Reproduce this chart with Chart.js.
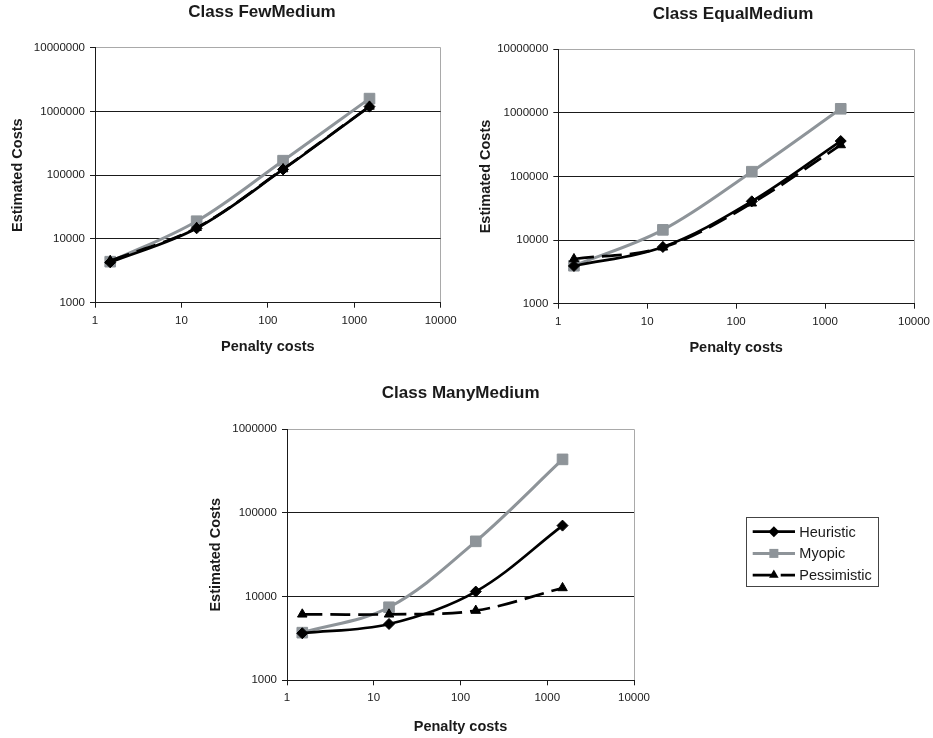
<!DOCTYPE html>
<html><head><meta charset="utf-8">
<script src="https://cdn.jsdelivr.net/npm/chart.js@4/dist/chart.umd.min.js"></script>
<style>
html,body{margin:0;padding:0;background:#fff;}
body{width:933px;height:738px;position:relative;overflow:hidden;}
canvas{position:absolute;}
</style></head><body>
<canvas id="c1" width="466" height="370" style="left:0;top:0"></canvas>
<canvas id="c2" width="475" height="370" style="left:466px;top:0"></canvas>
<canvas id="c3" width="738" height="366" style="left:195px;top:372px"></canvas>
<script>
// ---- data ----
const penalty = [1.5, 15, 150, 1500];
const xTicks = [1, 10, 100, 1000, 10000];
const yTicksTop = [1000, 10000, 100000, 1000000, 10000000];
const yTicksBottom = [1000, 10000, 100000, 1000000];
const seriesNames = ['Heuristic', 'Myopic', 'Pessimistic'];
const chartTitles = ['Class FewMedium', 'Class EqualMedium', 'Class ManyMedium'];
const xAxisTitle = 'Penalty costs';
const yAxisTitle = 'Estimated Costs';

const fewHeuristic = [4300, 14700, 123000, 1190000];
const fewMyopic = [4400, 19000, 169000, 1590000];
const fewPessimistic = [4560, 15000, 125000, 1200000];

const equalHeuristic = [3920, 7800, 40700, 361000];
const equalMyopic = [3950, 14500, 119000, 1160000];
const equalPessimistic = [5050, 7700, 38000, 313000];

const manyHeuristic = [3650, 4710, 11500, 70600];
const manyMyopic = [3710, 7470, 45800, 437000];
const manyPessimistic = [6150, 6150, 6810, 12700];

// ---- styles ----
const FONT = "'Liberation Sans', Arial, sans-serif";
const INK = '#1a1a1a';
const GRAY = '#8e9499';
const seriesStyles = [
  {borderColor: '#000', backgroundColor: '#000', pointBorderColor: '#000', borderWidth: 2.7, pointStyle: 'rectRot', pointRadius: 5.5, pointBorderWidth: 1, order: 0},
  {borderColor: GRAY, backgroundColor: GRAY, pointBorderColor: GRAY, borderWidth: 3, pointStyle: 'rect', pointRadius: 7.5, pointBorderWidth: 1, order: 1},
  {borderColor: '#000', backgroundColor: '#000', pointBorderColor: '#000', borderWidth: 2.7, borderDash: [20, 8], pointStyle: 'triangle', pointRadius: 5.5, pointBorderWidth: 1, order: 0}
];

const fixedTitle = {
  id: 'fixedTitle',
  afterDraw(chart, args, o) {
    if (!o || !o.text) return;
    const ctx = chart.ctx;
    ctx.save();
    ctx.font = o.font;
    ctx.fillStyle = o.color;
    ctx.textAlign = 'center';
    ctx.textBaseline = 'middle';
    ctx.fillText(o.text, o.x, o.y);
    ctx.restore();
  }
};

function drawMarker(ctx, style, x, y, r) {
  ctx.beginPath();
  if (style === 'rectRot') {
    ctx.moveTo(x, y - r); ctx.lineTo(x + r, y); ctx.lineTo(x, y + r); ctx.lineTo(x - r, y);
  } else if (style === 'rect') {
    const s = r * Math.SQRT1_2;
    ctx.rect(x - s, y - s, 2 * s, 2 * s);
  } else {
    const a = 2 * Math.PI / 3;
    ctx.moveTo(x, y - r);
    ctx.lineTo(x + Math.sin(a) * r, y - Math.cos(a) * r);
    ctx.lineTo(x + Math.sin(2 * a) * r, y - Math.cos(2 * a) * r);
  }
  ctx.closePath();
  ctx.fill();
}

const sideLegend = {
  id: 'sideLegend',
  afterDraw(chart, args, o) {
    if (!o || !o.display) return;
    const ctx = chart.ctx;
    ctx.save();
    ctx.strokeStyle = o.boxColor;
    ctx.lineWidth = 1;
    ctx.strokeRect(Math.round(o.x) + 0.5, Math.round(o.y) + 0.5, o.w, o.h);
    chart.data.datasets.forEach((d, i) => {
      const cy = o.firstRow + i * o.rowH;
      ctx.save();
      ctx.strokeStyle = d.borderColor;
      ctx.lineWidth = d.borderWidth;
      ctx.setLineDash(d.borderDash || []);
      ctx.beginPath();
      ctx.moveTo(o.lineX0, cy); ctx.lineTo(o.lineX1, cy);
      ctx.stroke();
      ctx.restore();
      ctx.fillStyle = d.backgroundColor;
      drawMarker(ctx, d.pointStyle, (o.lineX0 + o.lineX1) / 2, cy, d.pointRadius * (d.pointStyle === 'rect' ? 0.85 : 1));
      ctx.fillStyle = INK;
      ctx.font = o.font;
      ctx.textAlign = 'left';
      ctx.textBaseline = 'middle';
      ctx.fillText(d.label, o.textX, cy + 1);
    });
    ctx.restore();
  }
};

function makeChart(id, titleText, yTicks, series, L) {
  const yMax = yTicks[yTicks.length - 1];
  const xMax = xTicks[xTicks.length - 1];
  return new Chart(document.getElementById(id), {
    type: 'line',
    data: {
      datasets: series.map((vals, i) => Object.assign({
        label: seriesNames[i],
        data: penalty.map((x, k) => ({x: x, y: vals[k]})),
        tension: 0.35,
        fill: false
      }, seriesStyles[i]))
    },
    options: {
      responsive: false,
      animation: false,
      devicePixelRatio: 1,
      events: [],
      layout: {padding: {top: L.top, right: L.right, bottom: 0, left: 0}},
      plugins: {
        legend: {display: false},
        title: {display: false},
        tooltip: {enabled: false},
        fixedTitle: {text: titleText, x: L.titleX, y: L.titleY, font: 'bold 17px ' + FONT, color: INK},
        sideLegend: L.legend || {display: false}
      },
      scales: {
        x: {
          type: 'logarithmic',
          min: xTicks[0], max: xMax,
          afterBuildTicks: s => { s.ticks = xTicks.map(v => ({value: v})); },
          afterFit: s => { s.height = L.xH; },
          ticks: {autoSkip: false, maxRotation: 0, padding: 6, color: INK,
                  font: {family: FONT, size: 11.5}, callback: v => String(v)},
          grid: {color: c => (c.tick && c.tick.value === xMax) ? '#a9a9a9' : 'rgba(0,0,0,0)',
                 tickColor: INK, tickLength: 5, lineWidth: 1},
          border: {color: INK, width: 1},
          title: {display: true, text: xAxisTitle, color: INK,
                  font: {family: FONT, size: 14.5, weight: 'bold'},
                  padding: {top: 0, bottom: L.xTitlePad}}
        },
        y: {
          type: 'logarithmic',
          min: yTicks[0], max: yMax,
          afterBuildTicks: s => { s.ticks = yTicks.map(v => ({value: v})); },
          afterFit: s => { s.width = L.yW; },
          ticks: {autoSkip: false, padding: 5, color: INK,
                  font: {family: FONT, size: 11.5}, callback: v => String(v)},
          grid: {color: c => (c.tick && c.tick.value === yMax) ? '#a9a9a9' : INK,
                 tickColor: INK, tickLength: 5, lineWidth: 1},
          border: {color: INK, width: 1},
          title: {display: true, text: yAxisTitle, color: INK,
                  font: {family: FONT, size: 14.5, weight: 'bold'},
                  padding: {top: L.yTitlePad, bottom: 0}}
        }
      }
    },
    plugins: [fixedTitle, sideLegend]
  });
}

makeChart('c1', chartTitles[0], yTicksTop, [fewHeuristic, fewMyopic, fewPessimistic],
  {top: 47.7, right: 25.3, xH: 67.3, yW: 95, titleX: 262, titleY: 12.3, xTitlePad: 14, yTitlePad: 9});
makeChart('c2', chartTitles[1], yTicksTop, [equalHeuristic, equalMyopic, equalPessimistic],
  {top: 49.3, right: 27, xH: 66.3, yW: 92.3, titleX: 267, titleY: 14, xTitlePad: 13, yTitlePad: 11});
makeChart('c3', chartTitles[2], yTicksBottom, [manyHeuristic, manyMyopic, manyPessimistic],
  {top: 57.3, right: 299, xH: 57.7, yW: 92, titleX: 265.7, titleY: 21.3, xTitlePad: 2.5, yTitlePad: 12,
   legend: {display: true, x: 550.7, y: 144.7, w: 132, h: 69, firstRow: 159.7, rowH: 21.7,
            lineX0: 557.7, lineX1: 600, textX: 604.3, font: '14.5px ' + FONT, boxColor: '#444'}});
</script>
</body></html>
